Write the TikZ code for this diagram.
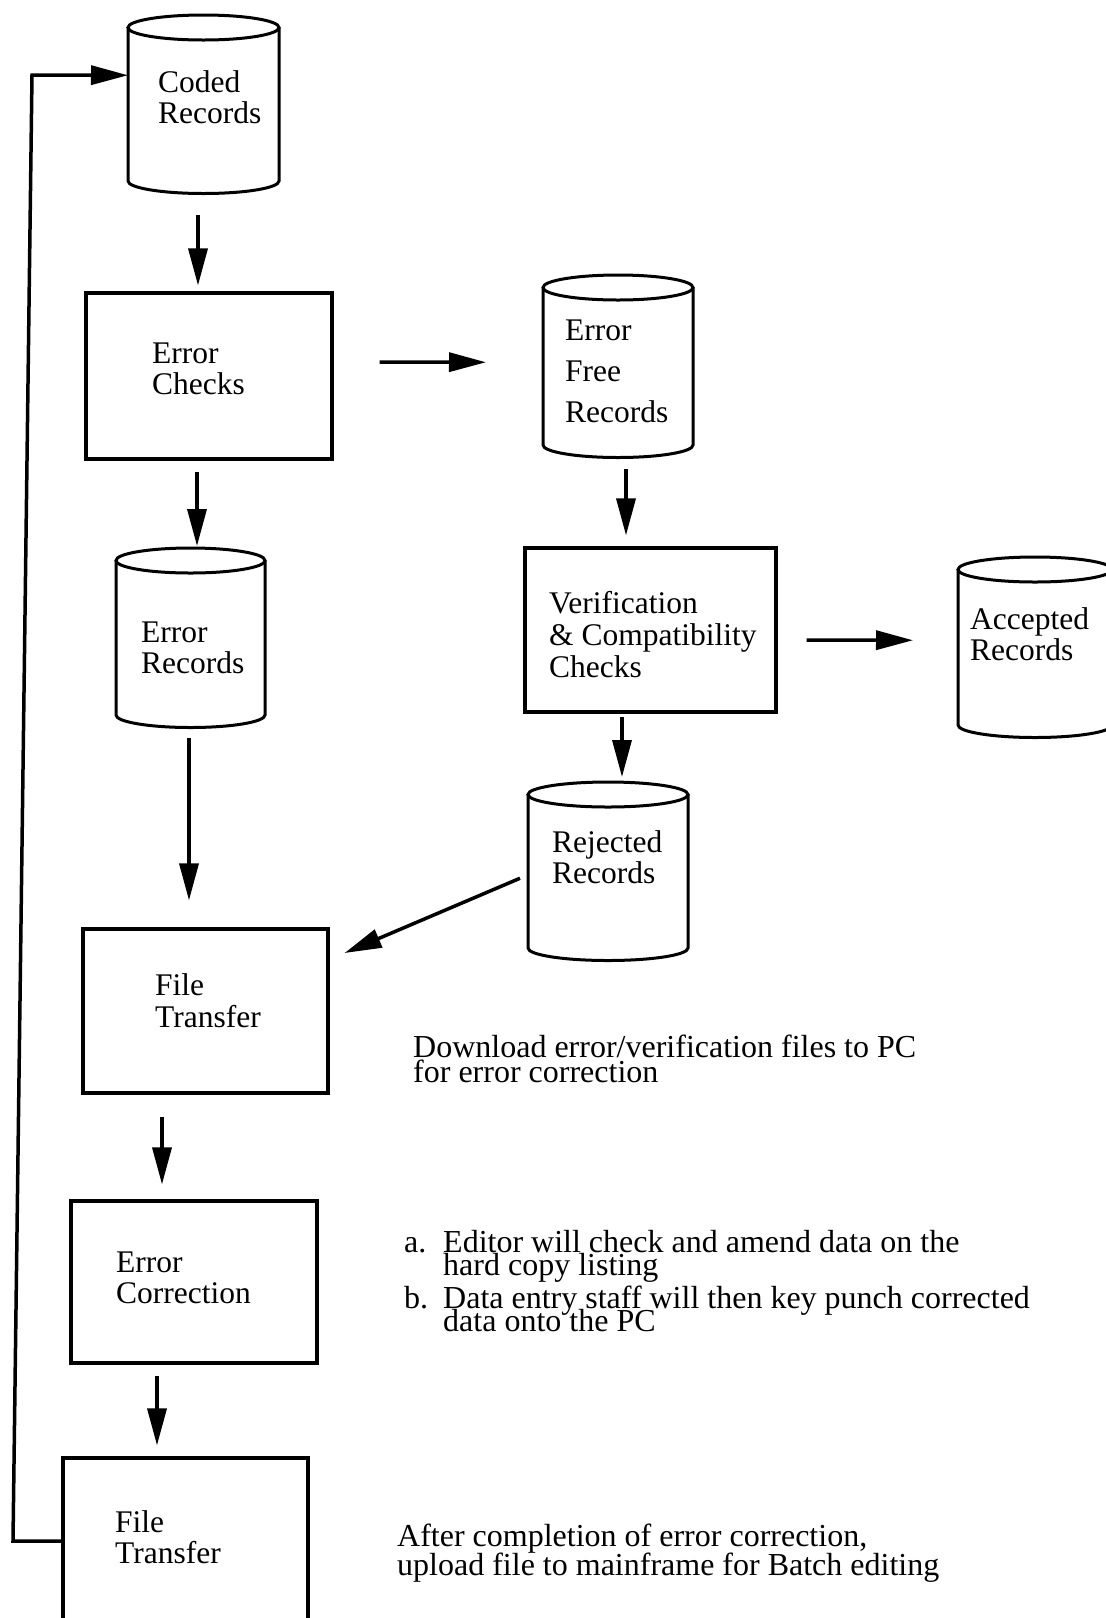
\documentclass[tikz,border=0pt]{standalone}
\usepackage{fontspec}
\setmainfont{Liberation Serif}
\usetikzlibrary{arrows.meta,calc}

% let lines with descenders sit at their nominal spacing
\newcommand\tightlines{\lineskiplimit=-100pt\relax}

% drum-shaped data store: name, left, right, top, bottom of the sides
\newcommand\datadrum[5]{%
  \pgfmathsetmacro\drumcx{(#2+#3)/2}%
  \pgfmathsetmacro\drumrx{(#3-#2)/2}%
  \pgfmathsetmacro\drumh{#5+12.5-#4}%
  \pgfmathsetmacro\drumcy{(#4+#5+12.5)/2}%
  \draw[drumline] (#2,#4+12.5) -- (#2,#5)
    arc[start angle=180,end angle=0,x radius=\drumrx,y radius=12.5] -- (#3,#4+12.5);
  \draw[drumline] (\drumcx,#4+12.5) ellipse[x radius=\drumrx,y radius=12.5];
  \node[inner sep=0pt,outer sep=0pt,minimum width=2*\drumrx pt,minimum height=\drumh pt] (#1) at (\drumcx,\drumcy) {};
}

\begin{document}
\begin{tikzpicture}[x=1pt,y=-1pt,
  drumline/.style={line width=3pt},
  procbox/.style={draw,line width=3.2pt,inner sep=0pt},
  arr/.style={line width=3.5pt,-{Triangle[length=37pt,width=19pt]}},
  lbl/.style={anchor=base west,inner sep=0pt,align=left,font=\fontsize{31.5}{31}\selectfont},
  note/.style={anchor=base west,inner sep=0pt,align=left,font=\fontsize{32}{23}\selectfont\tightlines},
]
\useasboundingbox[fill=white] (0,0) rectangle (1106,1618);

% data stores
\datadrum{coded}{128}{279}{15}{181}
\datadrum{errfree}{543}{693}{275}{445}
\datadrum{errrec}{116}{265}{548}{715}
\datadrum{rejected}{528}{688}{782}{948}
\datadrum{accepted}{958}{1112}{557}{725}

% process boxes
\node[procbox,minimum width=246pt,minimum height=166pt] (echk) at (209,376) {};
\node[procbox,minimum width=251pt,minimum height=164pt] (verif) at (650.5,630) {};
\node[procbox,minimum width=245pt,minimum height=164pt] (ft1) at (205.5,1011) {};
\node[procbox,minimum width=246pt,minimum height=162pt] (ecorr) at (194,1282) {};
\node[procbox,minimum width=245pt,minimum height=182pt] (ft2) at (185.5,1549) {};

% labels (anchored at the baseline of their last line)
\node[lbl] (tcoded) at (158,123) {Coded\\Records};
\node[lbl] (techk) at (152,394) {Error\\Checks};
\node[lbl,font=\fontsize{31.5}{41}\selectfont] (terrfree) at (565,422) {Error\\Free\\Records};
\node[lbl] (terrrec) at (141,673) {Error\\Records};
\node[lbl,font=\fontsize{31.5}{32}\selectfont] (tverif) at (549,677) {Verification\\\& Compatibility\\Checks};
\node[lbl] (taccepted) at (970,660) {Accepted\\Records};
\node[lbl,font=\fontsize{31.5}{30.5}\selectfont] (trejected) at (552,883) {Rejected\\Records};
\node[lbl,font=\fontsize{31.5}{32}\selectfont] (tft1) at (155,1027) {File\\Transfer};
\node[lbl] (tecorr) at (116,1303) {Error\\Correction};
\node[lbl] (tft2) at (115,1563) {File\\Transfer};

% notes
\node[note,font=\fontsize{32}{25}\selectfont\tightlines] (ndownload) at (413,1082) {Download error/verification files to PC\\for error correction};
\node[note] (nitema) at (404,1252) {a.};
\node[note] (ntexta) at (443,1275) {Editor will check and amend data on the\\hard copy listing};
\node[note] (nitemb) at (404,1308) {b.};
\node[note] (ntextb) at (443,1331) {Data entry staff will then key punch corrected\\data onto the PC};
\node[note,font=\fontsize{32}{29}\selectfont\tightlines] (nupload) at (397,1575) {After completion of error correction,\\upload file to mainframe for Batch editing};

% flow
\draw[arr] ([xshift=-5.5pt,yshift=-21.5pt]coded.south) -- ([xshift=-11pt,yshift=6pt]echk.north);
\draw[arr] ([xshift=46pt,yshift=14pt]echk.east) -- ([xshift=-57pt,yshift=4pt]errfree.west);
\draw[arr] ([xshift=8pt,yshift=-11.5pt]errfree.south) -- ([xshift=-24.5pt,yshift=11pt]verif.north);
\draw[arr] ([xshift=29pt,yshift=-10pt]verif.east) -- ([xshift=-45pt,yshift=7pt]accepted.west);
\draw[arr] ([xshift=-28.5pt,yshift=-3pt]verif.south) -- ([xshift=14pt,yshift=5pt]rejected.north);
\draw[arr] ([xshift=-12pt,yshift=-11pt]echk.south) -- ([xshift=6.5pt,yshift=2pt]errrec.north);
\draw[arr] ([xshift=-1.5pt,yshift=-10.5pt]errrec.south) -- ([xshift=-16.5pt,yshift=27pt]ft1.north);
\draw[arr] ([xshift=-8pt,yshift=-7pt]rejected.west) -- ([xshift=15pt,yshift=58pt]ft1.east);
\draw[arr] ([xshift=-43.5pt,yshift=-22pt]ft1.south) -- ([xshift=-32pt,yshift=15pt]ecorr.north);
\draw[arr] ([xshift=-37pt,yshift=-11pt]ecorr.south) -- ([xshift=-28.5pt,yshift=11pt]ft2.north);

% return loop for batch editing
\coordinate (loopbot) at (13,1541);
\coordinate (looptop) at (32,75);
\draw[arr] ([yshift=8pt]ft2.west) -- (loopbot) -- (looptop) -- ([yshift=29pt]coded.west);
\end{tikzpicture}
\end{document}
